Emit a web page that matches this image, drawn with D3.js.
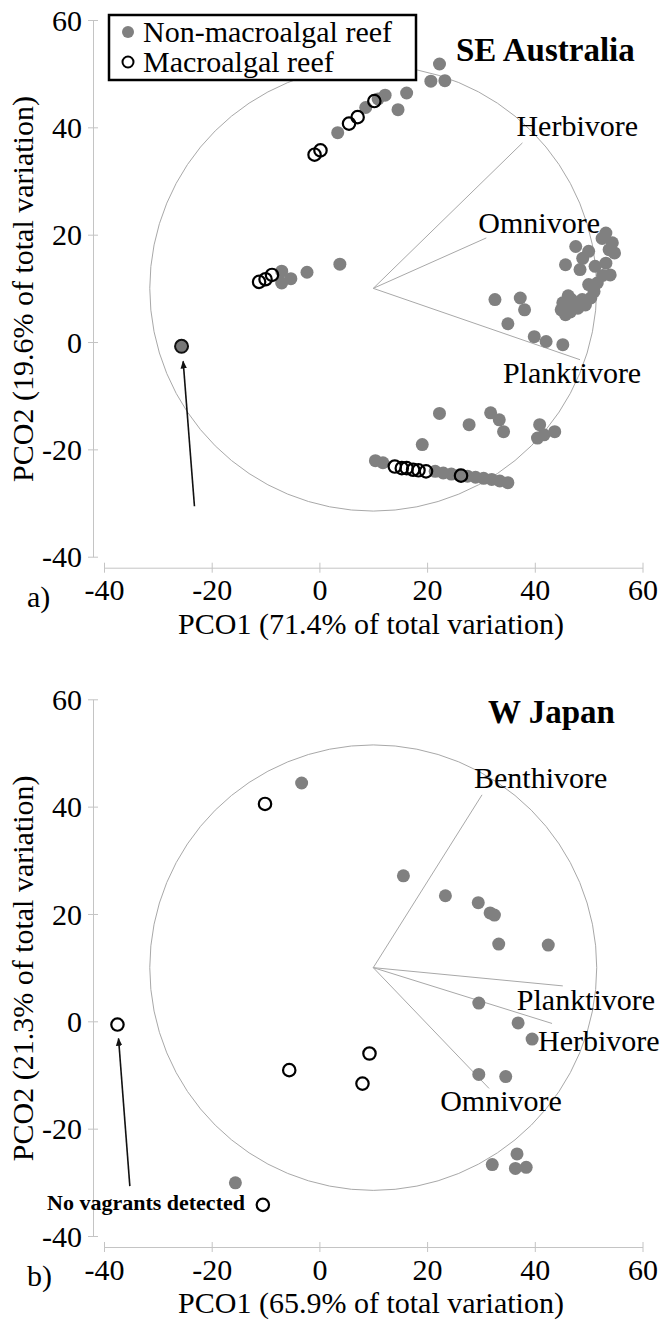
<!DOCTYPE html>
<html>
<head>
<meta charset="utf-8">
<script src="https://cdn.jsdelivr.net/npm/d3@7"></script>
<style>
  body { margin: 0; background: #fff; }
  text { font-family: "Liberation Serif", "Times New Roman", serif; fill: #000; }
</style>
</head>
<body>
<div id="chart"></div>
<script>
// axis ticks shared by both panels
const tickValues = [-40, -20, 0, 20, 40, 60];

// ---- a) SE Australia ----
const seNonMacro = [
  [22.3, 51.8], [20.7, 48.6], [23.3, 48.7], [16.2, 46.4], [14.6, 43.3], [12.2, 46.0], [10.9, 45.3], [8.6, 43.7], [3.4, 39.0],
  [-7.0, 13.2], [-7.0, 11.0], [-5.3, 11.8], [-2.3, 13.0], [3.8, 14.5],
  [47.6, 17.8], [50.0, 16.9], [53.2, 20.3], [54.4, 18.5], [54.8, 16.6], [53.2, 14.7], [54.0, 12.5], [51.2, 14.1],
  [45.7, 14.4], [48.4, 13.5], [51.6, 11.0], [50.0, 10.7], [50.4, 8.2], [46.8, 7.9], [45.2, 7.3], [48.0, 6.3],
  [45.7, 5.1], [48.8, 7.9], [44.9, 6.0], [32.6, 7.9], [37.3, 8.2], [38.1, 6.0], [35.0, 3.4], [39.9, 1.0], [42.1, 0.1], [45.2, -0.5],
  [52.5, 19.3], [53.8, 17.2], [52.6, 12.4], [51.0, 9.4], [49.4, 6.9], [47.0, 6.6], [46.2, 8.6], [46.6, 5.6], [48.9, 15.6],
  [22.3, -13.3], [27.8, -15.4], [31.8, -13.2], [33.4, -14.5], [34.2, -16.7], [19.1, -19.1],
  [40.9, -15.4], [41.7, -17.3], [40.5, -17.9], [43.7, -16.7],
  [10.4, -22.1], [11.8, -22.5], [21.5, -24.1], [23.0, -24.4], [24.5, -24.6], [26.0, -24.8], [27.5, -25.0],
  [29.0, -25.2], [30.5, -25.4], [32.0, -25.6], [33.5, -25.9], [35.0, -26.2]
];
const seMacro = [
  [-0.9, 34.9], [0.2, 35.7], [5.5, 40.7], [7.1, 41.9], [10.2, 44.9],
  [-11.2, 11.2], [-10.0, 11.7], [-8.8, 12.5],
  [14.0, -23.2], [15.3, -23.5], [16.2, -23.5], [17.4, -23.8], [18.4, -23.9], [19.8, -24.1], [26.3, -24.9]
];
const seMarked = [[-25.6, -0.8]];
const seVectorNames = ["Herbivore", "Omnivore", "Planktivore"];
const seVectorEnds = [[37.7, 37.1], [31.0, 19.4], [48.4, -3.3]];
const seArrow = [[-23.2, -30.6], [-25.3, -3.6]];

// ---- b) W Japan ----
const jpNonMacro = [
  [-3.3, 44.4], [15.6, 27.1], [23.4, 23.4], [29.5, 22.1], [31.7, 20.2], [32.5, 19.8], [33.3, 14.4], [42.5, 14.2],
  [29.6, 3.4], [36.9, -0.3], [39.5, -3.3], [29.6, -9.9], [34.6, -10.3],
  [-15.6, -30.1], [32.1, -26.7], [36.7, -24.7], [36.4, -27.4], [38.4, -27.2]
];
const jpMacro = [[-10.1, 40.5], [-37.5, -0.6], [9.3, -6.0], [8.0, -11.6], [-5.6, -9.1], [-10.5, -34.2]];
const jpVectorNames = ["Benthivore", "Planktivore", "Herbivore", "Omnivore"];
const jpVectorEnds = [[30.2, 42.2], [45.2, 6.6], [43.2, -0.4], [31.5, -12.5]];
const jpArrow = [[-35.2, -30.7], [-37.3, -3.2]];

const vectorOrigin = [10, 10];
const circleRadius = 41.5;

// label nudges (px) relative to vector ends - placed by hand like the original
const nudges = {
  "a": [[-6, -7, "start"], [-8, -5, "start"], [-8, 23, "middle"]],
  "b": [[-8, -7, "start"], [-46, 24, "start"], [-14, 28, "start"], [12, 23, "middle"]]
};

const svg = d3.select("#chart").append("svg")
  .attr("width", 668).attr("height", 1320);

svg.append("defs").append("marker")
  .attr("id", "arrowhead")
  .attr("viewBox", "0 0 10 10")
  .attr("refX", 9).attr("refY", 5)
  .attr("markerWidth", 5).attr("markerHeight", 5)
  .attr("orient", "auto")
  .append("path").attr("d", "M0,1 L10,5 L0,9 z").attr("fill", "#111");

function panel(opts) {
  var g = svg.append("g").attr("transform", "translate(0," + opts.top + ")");
  var x = d3.scaleLinear().domain([-40, 60]).range([104, 642.5]);
  var y = d3.scaleLinear().domain([-40, 60]).range([556.7, 20]);
  var axisColor = "#c4c4c4";

  // y axis, detached to the left
  var ya = g.append("g").attr("transform", "translate(93,0)")
    .call(d3.axisLeft(y).tickValues(tickValues).tickSizeOuter(0).tickSizeInner(5).tickPadding(6).tickFormat(function(d) { return String(d); }));
  // x axis, detached below
  var xa = g.append("g").attr("transform", "translate(0,567.7)")
    .call(d3.axisBottom(x).tickValues(tickValues).tickSizeOuter(0).tickSizeInner(5).tickPadding(5).tickFormat(function(d) { return String(d); }));
  ya.selectAll(".tick line").attr("x1", 5);
  xa.selectAll(".tick line").attr("y1", -5);
  [ya, xa].forEach(function(a) {
    a.select(".domain").attr("stroke", axisColor);
    a.selectAll(".tick line").attr("stroke", axisColor);
    a.selectAll(".tick text").attr("font-size", 30).style("font-family", '"Liberation Serif", "Times New Roman", serif').attr("fill", "#000");
  });
  ya.selectAll(".tick text").attr("dy", "0.34em");
  xa.selectAll(".tick text").attr("dy", "0.75em");

  // correlation circle
  g.append("ellipse")
    .attr("cx", x(vectorOrigin[0])).attr("cy", y(vectorOrigin[1]))
    .attr("rx", x(vectorOrigin[0] + circleRadius) - x(vectorOrigin[0]))
    .attr("ry", y(vectorOrigin[1]) - y(vectorOrigin[1] + circleRadius))
    .attr("fill", "none").attr("stroke", "#a8a8a8").attr("stroke-width", 1);

  // vectors
  g.selectAll(".vec").data(opts.vectorEnds).enter().append("line")
    .attr("class", "vec")
    .attr("x1", x(vectorOrigin[0])).attr("y1", y(vectorOrigin[1]))
    .attr("x2", function(d) { return x(d[0]); })
    .attr("y2", function(d) { return y(d[1]); })
    .attr("stroke", "#a8a8a8").attr("stroke-width", 1);

  g.selectAll(".veclabel").data(opts.vectorEnds).enter().append("text")
    .attr("class", "veclabel")
    .attr("x", function(d, i) { return x(d[0]) + opts.nudge[i][0]; })
    .attr("y", function(d, i) { return y(d[1]) + opts.nudge[i][1]; })
    .attr("text-anchor", function(d, i) { return opts.nudge[i][2]; })
    .attr("font-size", 30)
    .text(function(d, i) { return opts.vectorNames[i]; });

  // points
  g.selectAll(".filled").data(opts.filled).enter().append("circle")
    .attr("class", "filled")
    .attr("cx", function(d) { return x(d[0]); })
    .attr("cy", function(d) { return y(d[1]); })
    .attr("r", 6.5).attr("fill", "#808080");

  g.selectAll(".open").data(opts.open).enter().append("circle")
    .attr("class", "open")
    .attr("cx", function(d) { return x(d[0]); })
    .attr("cy", function(d) { return y(d[1]); })
    .attr("r", 6.2).attr("fill", "none").attr("stroke", "#000").attr("stroke-width", 2.2);

  if (opts.marked) {
    g.selectAll(".marked").data(opts.marked).enter().append("circle")
      .attr("cx", function(d) { return x(d[0]); })
      .attr("cy", function(d) { return y(d[1]); })
      .attr("r", 6.5).attr("fill", "#777").attr("stroke", "#111").attr("stroke-width", 2);
  }

  // arrow pointing at the vagrant-free site
  g.append("line")
    .attr("x1", x(opts.arrow[0][0])).attr("y1", y(opts.arrow[0][1]))
    .attr("x2", x(opts.arrow[1][0])).attr("y2", y(opts.arrow[1][1]))
    .attr("stroke", "#111").attr("stroke-width", 1.6)
    .attr("marker-end", "url(#arrowhead)");

  // titles
  g.append("text").attr("x", opts.titleX).attr("y", opts.titleY)
    .attr("font-size", 33).attr("font-weight", "bold").text(opts.title);

  g.append("text").attr("x", 371).attr("y", 634).attr("text-anchor", "middle")
    .attr("font-size", 30).text(opts.xLabel);

  g.append("text").attr("transform", "translate(33,289) rotate(-90)")
    .attr("text-anchor", "middle").attr("font-size", 30).text(opts.yLabel);

  g.append("text").attr("x", 27).attr("y", 607).attr("font-size", 30).text(opts.tag);

  return g;
}

var pa = panel({
  top: 0, filled: seNonMacro, open: seMacro, marked: seMarked,
  vectorNames: seVectorNames, vectorEnds: seVectorEnds, nudge: nudges.a,
  arrow: seArrow, title: "SE Australia", titleX: 456, titleY: 61, tag: "a)",
  xLabel: "PCO1 (71.4% of total variation)", yLabel: "PCO2 (19.6% of total variation)"
});

// legend (panel a only)
var legend = pa.append("g");
legend.append("rect").attr("x", 109).attr("y", 15).attr("width", 307).attr("height", 65)
  .attr("fill", "#fff").attr("stroke", "#000").attr("stroke-width", 2.5);
legend.append("circle").attr("cx", 128).attr("cy", 32).attr("r", 6).attr("fill", "#808080");
legend.append("circle").attr("cx", 128).attr("cy", 62).attr("r", 5.5)
  .attr("fill", "none").attr("stroke", "#000").attr("stroke-width", 2);
legend.append("text").attr("x", 143).attr("y", 42).attr("font-size", 30).text("Non-macroalgal reef");
legend.append("text").attr("x", 143).attr("y", 72).attr("font-size", 30).text("Macroalgal reef");

var pb = panel({
  top: 679.3, filled: jpNonMacro, open: jpMacro, marked: null,
  vectorNames: jpVectorNames, vectorEnds: jpVectorEnds, nudge: nudges.b,
  arrow: jpArrow, title: "W Japan", titleX: 488, titleY: 44, tag: "b)",
  xLabel: "PCO1 (65.9% of total variation)", yLabel: "PCO2 (21.3% of total variation)"
});

pb.append("text").attr("x", 47).attr("y", 531).attr("font-size", 22).attr("font-weight", "bold")
  .text("No vagrants detected");
</script>
</body>
</html>
